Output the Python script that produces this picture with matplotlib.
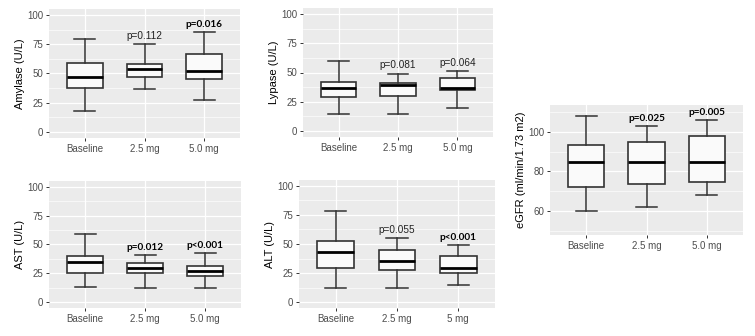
import matplotlib
import numpy as np

matplotlib.use("Agg")
import matplotlib.pyplot as plt
from matplotlib.ticker import MultipleLocator

W, H = 755, 336

# ---- data ----
groups = ["Baseline", "2.5 mg", "5.0 mg"]
groups_alt = ["Baseline", "2.5 mg", "5 mg"]

# each row: whisker low, q1, median, q3, whisker high
amylase = [[18, 38, 47, 59, 79], [37, 47, 54, 58.5, 75], [27, 45.5, 52.5, 67, 85]]
lypase = [[15, 29, 37, 42, 60], [15, 30, 39, 41, 49], [20, 35, 37, 45, 51]]
egfr = [[60, 72, 85, 93.5, 108], [62, 73.5, 85, 95, 103], [68, 74.5, 85, 98, 106]]
ast = [[13, 25, 35, 40, 59], [12, 25, 30, 34, 41], [12, 23, 27, 31, 43]]
alt = [[12, 29, 43, 53, 78], [12, 28, 35.5, 45, 55], [15, 25, 29, 39.5, 49]]

amylase_p = ["", "p=0.112", "p=0.016"]
lypase_p = ["", "p=0.081", "p=0.064"]
egfr_p = ["", "p=0.025", "p=0.005"]
ast_p = ["", "p=0.012", "p<0.001"]
alt_p = ["", "p=0.055", "p<0.001"]

amylase_p_y = [0, 82, 92]
lypase_p_y = [0, 56.5, 58.5]
egfr_p_y = [0, 107, 110]
ast_p_y = [0, 47.5, 49.5]
alt_p_y = [0, 62, 56]

amylase_bold = [False, False, True]
lypase_bold = [False, False, False]
egfr_bold = [False, True, True]
ast_bold = [False, True, True]
alt_bold = [False, False, True]

PANELS = [
    # (data, labels, pvals, p_y, bold, ylabel, (left, right, top, bottom) px, ylim, major, minor)
    (amylase, groups, amylase_p, amylase_p_y, amylase_bold, "Amylase (U/L)", (49, 240, 9, 138), (-5, 105), 25, 12.5),
    (lypase, groups, lypase_p, lypase_p_y, lypase_bold, "Lypase (U/L)", (303, 493, 8, 137), (-5, 105), 25, 12.5),
    (egfr, groups, egfr_p, egfr_p_y, egfr_bold, "eGFR (ml/min/1.73 m2)", (550, 743, 105, 235), (47.8, 113.7), 20, 10),
    (ast, groups, ast_p, ast_p_y, ast_bold, "AST (U/L)", (49, 241, 181, 308), (-5, 105), 25, 12.5),
    (alt, groups_alt, alt_p, alt_p_y, alt_bold, "ALT (U/L)", (299, 495, 180, 308), (-5, 105), 25, 12.5),
]

plt.rcParams["font.family"] = ["Liberation Sans", "DejaVu Sans"]

fig = plt.figure(figsize=(W / 100, H / 100), dpi=100)

for data, labels, pvals, p_y, bold, ylabel, (l, r, t, b), ylim, major, minor in PANELS:
    ax = fig.add_axes([l / W, 1 - b / H, (r - l) / W, (b - t) / H])
    ax.set_facecolor("#ebebeb")
    stats = [
        dict(whislo=s[0], q1=s[1], med=s[2], q3=s[3], whishi=s[4], fliers=[])
        for s in data
    ]
    pos = np.arange(1, len(stats) + 1)
    ax.bxp(
        stats,
        positions=pos,
        widths=0.6,
        capwidths=0.35,
        patch_artist=True,
        boxprops=dict(facecolor="#fafafa", edgecolor="#333333", linewidth=1.2),
        medianprops=dict(color="black", linewidth=2.0),
        whiskerprops=dict(color="#333333", linewidth=1.1),
        capprops=dict(color="#333333", linewidth=1.1),
        zorder=3,
    )
    for x, txt, y, bb in zip(pos, pvals, p_y, bold):
        if not txt:
            continue
        if bb:
            ax.text(x, y, txt, ha="center", va="center", fontsize=7.2,
                    fontweight="bold", family=["Lato", "DejaVu Sans"], zorder=4)
        else:
            ax.text(x, y, txt, ha="center", va="center", fontsize=7.2,
                    color="#222222", zorder=4)

    ax.set_xlim(0.4, 3.6)
    ax.set_ylim(*ylim)
    ax.yaxis.set_major_locator(MultipleLocator(major))
    ax.yaxis.set_minor_locator(MultipleLocator(minor))
    ax.set_xticks(pos)
    ax.set_xticklabels(labels)
    ax.grid(True, which="major", color="white", linewidth=0.9, zorder=0)
    ax.grid(True, which="minor", axis="y", color="white", linewidth=0.45, zorder=0)
    ax.set_axisbelow(True)
    for sp in ax.spines.values():
        sp.set_visible(False)
    ax.tick_params(axis="both", which="major", length=2.5, width=0.7, color="#333333",
                   labelsize=7, labelcolor="#4d4d4d", pad=1.5)
    ax.tick_params(axis="y", which="minor", length=0)
    ax.set_ylabel(ylabel, fontsize=8, color="black", labelpad=1.5)

fig.savefig("out.png", dpi=100)
